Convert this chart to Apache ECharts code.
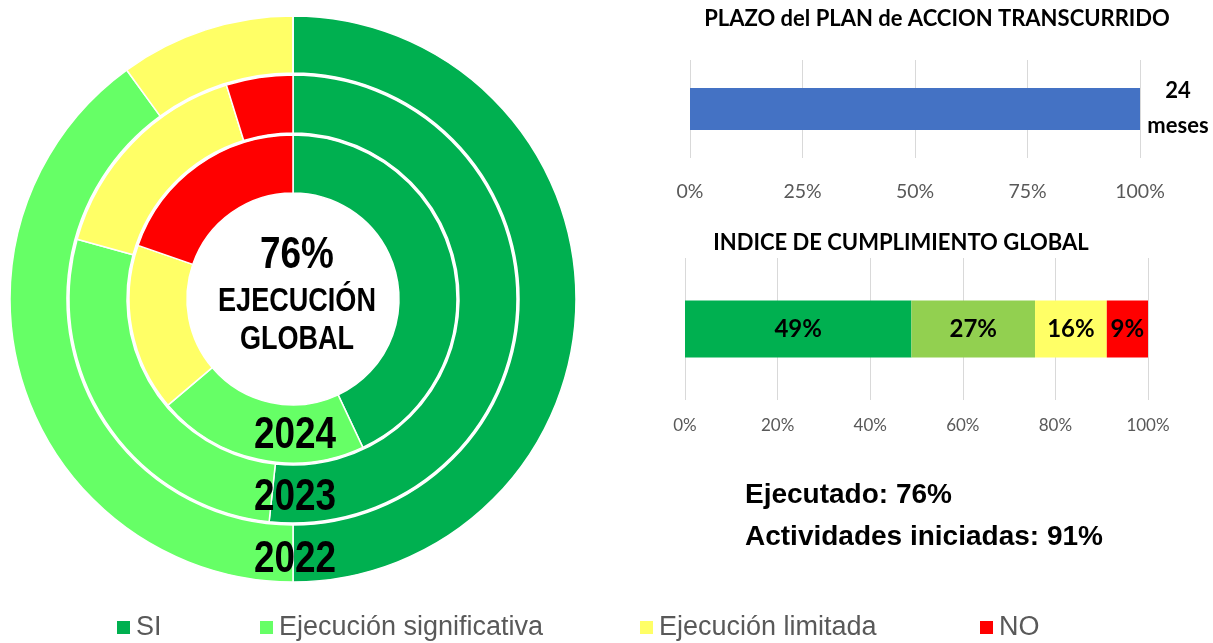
<!DOCTYPE html>
<html>
<head>
<meta charset="utf-8">
<script src="https://cdn.jsdelivr.net/npm/echarts@6/dist/echarts.min.js"></script>
<style>
  html, body { margin: 0; padding: 0; background: #fff; }
  #chart { width: 1213px; height: 643px; }
</style>
</head>
<body>
<div id="chart"></div>
<script>
// estados de ejecución
const estados = ['SI', 'Ejecución significativa', 'Ejecución limitada', 'NO'];
const coloresPie = ['#00B050', '#66FF66', '#FFFF66', '#FF0000'];

// anillos (porcentaje de actividades por año)
const anios = ['2022', '2023', '2024'];
const valores2022 = [50, 40, 10, 0];
const valores2023 = [51.7, 27.6, 15.9, 4.8];
const valores2024 = [43, 20.8, 16.5, 19.7];
const ejecucionGlobal = 76;

// plazo transcurrido
const plazoValor = [100];
const plazoMeses = 24;
const plazoTicks = [0, 25, 50, 75, 100];

// índice de cumplimiento global
const cumplimiento = [48.9, 26.7, 15.5, 8.9];
const coloresBarra = ['#00B050', '#92D050', '#FFFF66', '#FF0000'];
const cumplTicks = [0, 20, 40, 60, 80, 100];

const ejecutado = 76;
const iniciadas = 91;

const arial = '"Liberation Sans", Arial, sans-serif';
const calibri = 'Lato, "Open Sans", sans-serif';
const NARROW = 0.82; // Arial Narrow ~ Arial comprimida

const chart = echarts.init(document.getElementById('chart'));

function ring(name, values, radius) {
  return {
    type: 'pie',
    name: name,
    center: [293, 299],
    radius: radius,
    startAngle: 90,
    clockwise: true,
    avoidLabelOverlap: false,
    stillShowZeroSum: true,
    silent: true,
    label: { show: false },
    labelLine: { show: false },
    itemStyle: { borderColor: '#fff', borderWidth: 1.5 },
    data: estados.map((e, i) => ({ name: e, value: values[i], itemStyle: { color: coloresPie[i] } }))
  };
}

function narrowText(text, x, y, size) {
  return {
    type: 'text', x: x, y: y, scaleX: NARROW, z: 100,
    style: { text: text, fill: '#000', font: 'bold ' + size + 'px ' + arial, align: 'center', verticalAlign: 'middle' }
  };
}

const legendX = [115, 258, 638, 978];

const option = {
  animation: false,
  textStyle: { fontFamily: calibri },
  legend: estados.map((e, i) => ({
    data: [e],
    left: legendX[i],
    top: 614,
    icon: 'rect',
    itemWidth: 15,
    itemHeight: 15,
    selectedMode: false,
    padding: 0,
    textStyle: { fontFamily: arial, fontSize: 27, color: '#595959' }
  })),
  grid: [
    { left: 690, width: 450, top: 60, height: 98 },
    { left: 685, width: 463, top: 258, height: 142 }
  ],
  xAxis: [
    {
      gridIndex: 0, type: 'value', min: plazoTicks[0], max: plazoTicks[plazoTicks.length - 1],
      interval: plazoTicks[1] - plazoTicks[0],
      axisLine: { show: false }, axisTick: { show: false },
      splitLine: { lineStyle: { color: '#D9D9D9', width: 1 } },
      axisLabel: { formatter: '{value}%', color: '#595959', fontSize: 19.5, margin: 24, fontFamily: calibri }
    },
    {
      gridIndex: 1, type: 'value', min: cumplTicks[0], max: cumplTicks[cumplTicks.length - 1],
      interval: cumplTicks[1] - cumplTicks[0],
      axisLine: { show: false }, axisTick: { show: false },
      splitLine: { lineStyle: { color: '#D9D9D9', width: 1 } },
      axisLabel: { formatter: '{value}%', color: '#595959', fontSize: 17, margin: 17, fontFamily: calibri }
    }
  ],
  yAxis: [
    { gridIndex: 0, type: 'category', data: ['plazo'], show: false },
    { gridIndex: 1, type: 'category', data: ['cumplimiento'], show: false }
  ],
  graphic: [
    narrowText(ejecucionGlobal + '%', 297, 256, 45),
    narrowText('EJECUCIÓN', 297, 302, 33),
    narrowText('GLOBAL', 297, 340, 33),
    narrowText(anios[2], 295, 436, 45),
    narrowText(anios[1], 295, 498, 45),
    narrowText(anios[0], 295, 560, 45),
    { type: 'text', x: 937, y: 19, z: 100, style: { text: 'PLAZO del PLAN de ACCION TRANSCURRIDO', fill: '#000', font: 'bold 22px ' + calibri, align: 'center', verticalAlign: 'middle' } },
    { type: 'text', x: 901, y: 243, z: 100, style: { text: 'INDICE DE CUMPLIMIENTO GLOBAL', fill: '#000', font: 'bold 22px ' + calibri, align: 'center', verticalAlign: 'middle' } },
    { type: 'text', x: 745, y: 495, z: 100, style: { text: 'Ejecutado: ' + ejecutado + '%', fill: '#000', font: 'bold 28px ' + arial, align: 'left', verticalAlign: 'middle' } },
    { type: 'text', x: 745, y: 537, z: 100, style: { text: 'Actividades iniciadas: ' + iniciadas + '%', fill: '#000', font: 'bold 28px ' + arial, align: 'left', verticalAlign: 'middle' } }
  ],
  series: [
    ring(anios[0], valores2022, [226, 283]),
    ring(anios[1], valores2023, [166, 224]),
    ring(anios[2], valores2024, [106, 164]),
    {
      type: 'bar', name: 'Plazo', xAxisIndex: 0, yAxisIndex: 0,
      data: plazoValor, barWidth: 42, silent: true,
      itemStyle: { color: '#4472C4' },
      label: {
        show: true, position: 'right', distance: 0,
        formatter: () => plazoMeses + '\nmeses',
        color: '#000', fontWeight: 'bold', fontSize: 22, lineHeight: 35, fontFamily: calibri, align: 'center',
        offset: [38, -1]
      }
    },
    ...cumplimiento.map((v, i) => ({
      type: 'bar', name: 'cumplimiento-' + i, xAxisIndex: 1, yAxisIndex: 1, stack: 'total',
      data: [v], barWidth: 57, silent: true,
      itemStyle: { color: coloresBarra[i] },
      label: {
        show: true, position: 'inside',
        formatter: p => Math.round(p.value) + '%',
        color: '#000', fontWeight: 'bold', fontSize: 24, fontFamily: calibri
      }
    }))
  ]
};

chart.setOption(option);
</script>
</body>
</html>
